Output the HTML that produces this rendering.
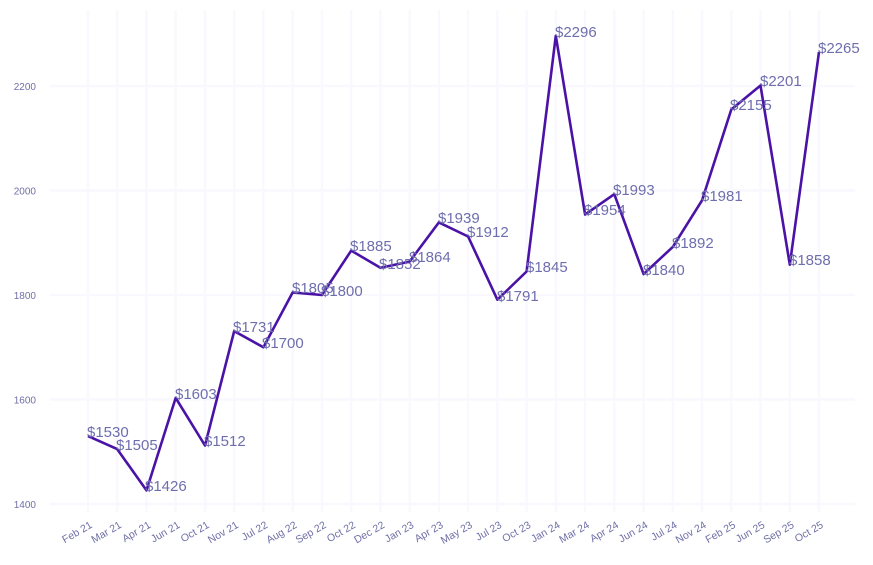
<!DOCTYPE html>
<html><head><meta charset="utf-8"><style>
html,body{margin:0;padding:0;background:#fff;}
svg{display:block;font-family:"Liberation Sans",Arial,sans-serif;}
.g{stroke:#f8f8fe;stroke-width:2.2;}
.yl{font-size:10px;fill:#6f6fa8;text-anchor:end;}
.xl{font-size:10.5px;fill:#6f6fa8;text-anchor:end;}
.dl{font-size:15px;fill:#6e6eae;}
</style></head><body>
<svg width="873" height="565" viewBox="0 0 873 565">
<g class="g">
<line x1="50" y1="504" x2="855" y2="504"/>
<line x1="50" y1="399.5" x2="855" y2="399.5"/>
<line x1="50" y1="295" x2="855" y2="295"/>
<line x1="50" y1="190.5" x2="855" y2="190.5"/>
<line x1="50" y1="86" x2="855" y2="86"/>
<line x1="88" y1="10" x2="88" y2="512"/><line x1="117.2" y1="10" x2="117.2" y2="512"/><line x1="146.5" y1="10" x2="146.5" y2="512"/><line x1="175.7" y1="10" x2="175.7" y2="512"/><line x1="205" y1="10" x2="205" y2="512"/><line x1="234.2" y1="10" x2="234.2" y2="512"/><line x1="263.4" y1="10" x2="263.4" y2="512"/><line x1="292.7" y1="10" x2="292.7" y2="512"/><line x1="321.9" y1="10" x2="321.9" y2="512"/><line x1="351.2" y1="10" x2="351.2" y2="512"/><line x1="380.4" y1="10" x2="380.4" y2="512"/><line x1="409.6" y1="10" x2="409.6" y2="512"/><line x1="438.9" y1="10" x2="438.9" y2="512"/><line x1="468.1" y1="10" x2="468.1" y2="512"/><line x1="497.4" y1="10" x2="497.4" y2="512"/><line x1="526.6" y1="10" x2="526.6" y2="512"/><line x1="555.8" y1="10" x2="555.8" y2="512"/><line x1="585.1" y1="10" x2="585.1" y2="512"/><line x1="614.3" y1="10" x2="614.3" y2="512"/><line x1="643.6" y1="10" x2="643.6" y2="512"/><line x1="672.8" y1="10" x2="672.8" y2="512"/><line x1="702" y1="10" x2="702" y2="512"/><line x1="731.3" y1="10" x2="731.3" y2="512"/><line x1="760.5" y1="10" x2="760.5" y2="512"/><line x1="789.8" y1="10" x2="789.8" y2="512"/><line x1="819" y1="10" x2="819" y2="512"/>
</g>
<g class="yl">
<text x="36" y="508">1400</text>
<text x="36" y="403.5">1600</text>
<text x="36" y="299">1800</text>
<text x="36" y="194.5">2000</text>
<text x="36" y="90">2200</text>
</g>
<g class="xl">
<text transform="translate(93,527) rotate(-30)">Feb 21</text>
<text transform="translate(122.2,527) rotate(-30)">Mar 21</text>
<text transform="translate(151.5,527) rotate(-30)">Apr 21</text>
<text transform="translate(180.7,527) rotate(-30)">Jun 21</text>
<text transform="translate(210,527) rotate(-30)">Oct 21</text>
<text transform="translate(239.2,527) rotate(-30)">Nov 21</text>
<text transform="translate(268.4,527) rotate(-30)">Jul 22</text>
<text transform="translate(297.7,527) rotate(-30)">Aug 22</text>
<text transform="translate(326.9,527) rotate(-30)">Sep 22</text>
<text transform="translate(356.2,527) rotate(-30)">Oct 22</text>
<text transform="translate(385.4,527) rotate(-30)">Dec 22</text>
<text transform="translate(414.6,527) rotate(-30)">Jan 23</text>
<text transform="translate(443.9,527) rotate(-30)">Apr 23</text>
<text transform="translate(473.1,527) rotate(-30)">May 23</text>
<text transform="translate(502.4,527) rotate(-30)">Jul 23</text>
<text transform="translate(531.6,527) rotate(-30)">Oct 23</text>
<text transform="translate(560.8,527) rotate(-30)">Jan 24</text>
<text transform="translate(590.1,527) rotate(-30)">Mar 24</text>
<text transform="translate(619.3,527) rotate(-30)">Apr 24</text>
<text transform="translate(648.6,527) rotate(-30)">Jun 24</text>
<text transform="translate(677.8,527) rotate(-30)">Jul 24</text>
<text transform="translate(707,527) rotate(-30)">Nov 24</text>
<text transform="translate(736.3,527) rotate(-30)">Feb 25</text>
<text transform="translate(765.5,527) rotate(-30)">Jun 25</text>
<text transform="translate(794.8,527) rotate(-30)">Sep 25</text>
<text transform="translate(824,527) rotate(-30)">Oct 25</text>
</g>
<polyline fill="none" stroke="#4a12a6" stroke-width="2.6" stroke-linejoin="round" points="88,436.1 117.2,449.1 146.5,490.4 175.7,397.9 205,445.5 234.2,331.1 263.4,347.3 292.7,292.4 321.9,295 351.2,250.6 380.4,267.8 409.6,261.6 438.9,222.4 468.1,236.5 497.4,299.7 526.6,271.5 555.8,35.8 585.1,214.5 614.3,194.2 643.6,274.1 672.8,246.9 702,200.4 731.3,109.5 760.5,85.5 789.8,264.7 819,52"/>
<g class="dl">
<text x="87" y="437">$1530</text>
<text x="116" y="450">$1505</text>
<text x="145" y="491">$1426</text>
<text x="175" y="399">$1603</text>
<text x="204" y="446">$1512</text>
<text x="233" y="332">$1731</text>
<text x="262" y="348">$1700</text>
<text x="292" y="293">$1805</text>
<text x="321" y="296">$1800</text>
<text x="350" y="251">$1885</text>
<text x="379" y="269">$1852</text>
<text x="409" y="262">$1864</text>
<text x="438" y="223">$1939</text>
<text x="467" y="237">$1912</text>
<text x="497" y="301">$1791</text>
<text x="526" y="272">$1845</text>
<text x="555" y="37">$2296</text>
<text x="584" y="215">$1954</text>
<text x="613" y="195">$1993</text>
<text x="643" y="275">$1840</text>
<text x="672" y="248">$1892</text>
<text x="701" y="201">$1981</text>
<text x="730" y="110">$2155</text>
<text x="760" y="86">$2201</text>
<text x="789" y="265">$1858</text>
<text x="818" y="53">$2265</text>
</g>
</svg>
</body></html>
